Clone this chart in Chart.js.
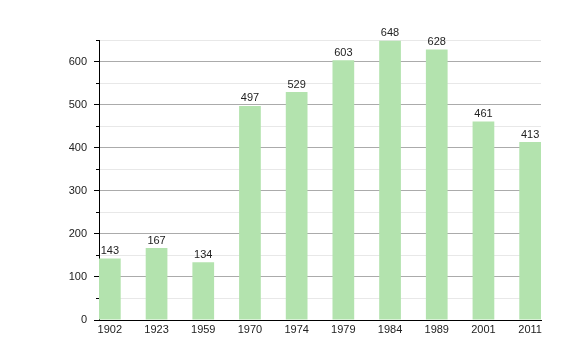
<!DOCTYPE html>
<html>
<head>
<meta charset="utf-8">
<script src="https://cdn.jsdelivr.net/npm/chart.js@4"></script>
<style>
  html, body { margin: 0; padding: 0; background: #fff; }
  #wrap { width: 580px; height: 360px; }
</style>
</head>
<body>
<div id="wrap"><canvas id="chart"></canvas></div>
<script>
// population by census year
const years = ['1902', '1923', '1959', '1970', '1974', '1979', '1984', '1989', '2001', '2011'];
const population = [143, 167, 134, 497, 529, 603, 648, 628, 461, 413];

// bar width as a share of the spacing between bars
const barShare = 0.465;

// value labels on top of the bars
const valueLabels = {
    id: 'valueLabels',
    afterDatasetsDraw(chart) {
        const ctx = chart.ctx;
        const meta = chart.getDatasetMeta(0);
        ctx.save();
        ctx.font = '11px "Liberation Sans", Arial, sans-serif';
        ctx.fillStyle = '#222';
        ctx.textAlign = 'center';
        ctx.textBaseline = 'bottom';
        meta.data.forEach((bar, i) => {
            ctx.fillText(String(population[i]), bar.x, bar.y - 2);
        });
        ctx.restore();
    }
};

// short ticks for the minor (50) steps
const minorTicks = {
    id: 'minorTicks',
    afterDraw(chart) {
        const y = chart.scales.y;
        const ctx = chart.ctx;
        ctx.save();
        ctx.strokeStyle = '#000';
        ctx.lineWidth = 1;
        y.ticks.forEach(t => {
            if (t.value % 100 !== 0) {
                const py = Math.round(y.getPixelForValue(t.value)) + 0.5;
                ctx.beginPath();
                ctx.moveTo(y.right - 3, py);
                ctx.lineTo(y.right, py);
                ctx.stroke();
            }
        });
        ctx.restore();
    }
};

const ctx = document.getElementById('chart').getContext('2d');
const chart = new Chart(ctx, {
    type: 'bar',
    data: {
        datasets: [{
            data: population.map((v, i) => ({ x: i, y: v })),
            backgroundColor: '#b3e3ae',
            borderWidth: 0,
            barPercentage: barShare,
            categoryPercentage: 1
        }]
    },
    options: {
        responsive: true,
        maintainAspectRatio: false,
        animation: false,
        layout: { padding: { left: 0, right: 39, top: 40, bottom: 0 } },
        plugins: {
            legend: { display: false },
            tooltip: { enabled: false }
        },
        scales: {
            x: {
                type: 'linear',
                offset: false,
                min: -barShare / 2,
                max: years.length - 1 + barShare / 2,
                afterBuildTicks: s => { s.ticks = years.map((_, i) => ({ value: i })); },
                afterFit: s => { s.height = 40; },
                grid: { display: false, drawTicks: false, offset: false },
                border: { color: '#000', width: 1 },
                ticks: {
                    padding: 3,
                    color: '#222',
                    font: { family: '"Liberation Sans", Arial, sans-serif', size: 11 },
                    maxRotation: 0,
                    autoSkip: false,
                    callback: v => years[v]
                }
            },
            y: {
                min: 0,
                max: 650,
                afterFit: s => { s.width = 99; },
                border: { color: '#000', width: 1 },
                grid: {
                    color: c => c.tick.value % 100 === 0 ? '#ababab' : '#e8e8e8',
                    tickColor: c => c.tick.value % 100 === 0 ? '#000' : 'rgba(0,0,0,0)',
                    tickLength: 5
                },
                ticks: {
                    stepSize: 50,
                    padding: 7,
                    color: '#222',
                    font: { family: '"Liberation Sans", Arial, sans-serif', size: 11 },
                    callback: v => v % 100 === 0 ? String(v) : ''
                }
            }
        }
    },
    plugins: [valueLabels, minorTicks]
});
</script>
</body>
</html>
